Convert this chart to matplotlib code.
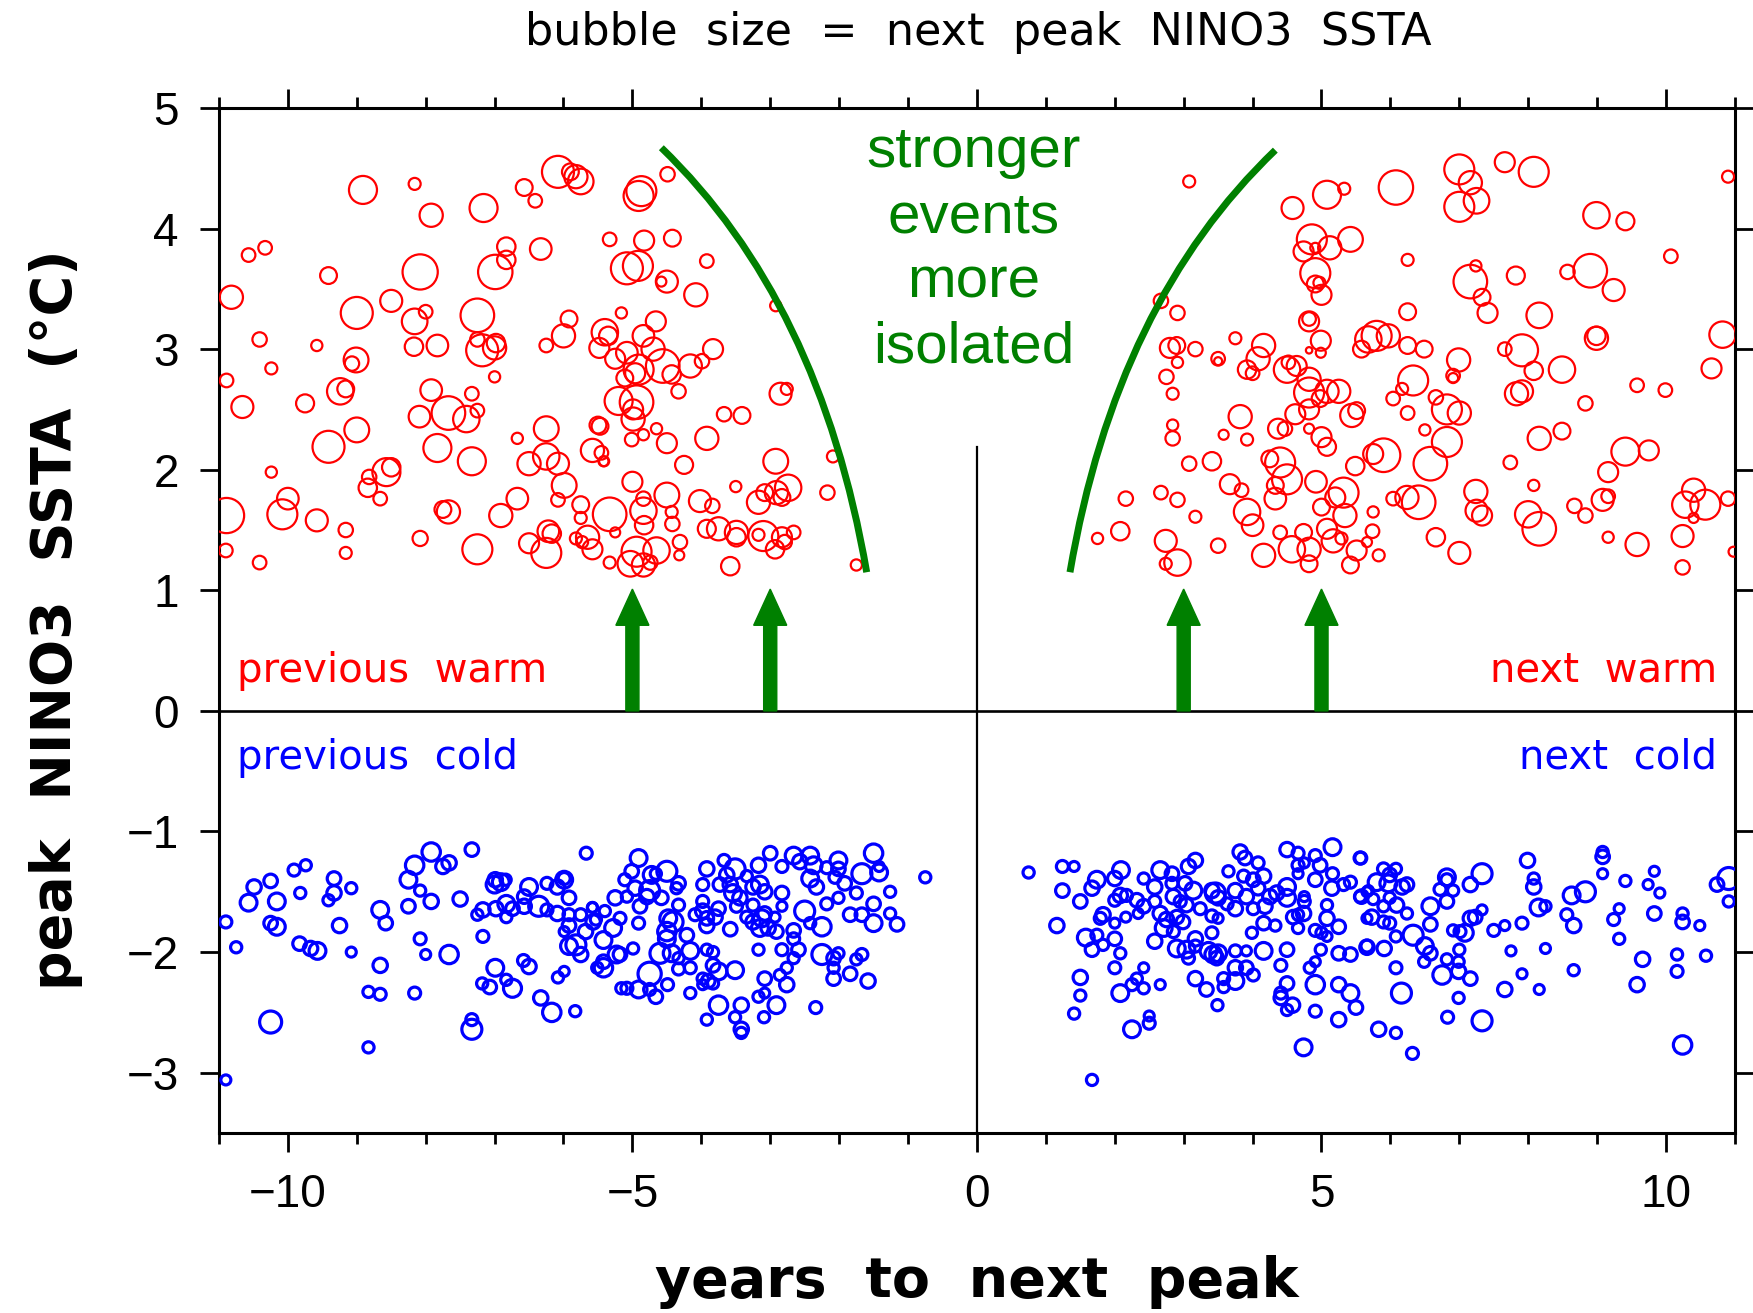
import numpy as np
import matplotlib
matplotlib.use("Agg")
import matplotlib.pyplot as plt
from matplotlib.path import Path
from matplotlib.patches import PathPatch
from matplotlib.ticker import MultipleLocator

# columns: years to next peak, peak NINO3 SSTA (degC), next peak SSTA magnitude (bubble size)
prev_warm = np.array([
    [-8.91, 4.32, 3.5], [-8.16, 4.37, 1.5], [-7.92, 4.11, 2.9], [-7.16, 4.17, 3.5], [-6.57, 4.34, 2.1],
    [-6.41, 4.23, 1.7], [-6.08, 4.47, 4.0], [-5.90, 4.47, 2.1], [-5.82, 4.43, 2.9], [-5.75, 4.39, 3.2],
    [-10.57, 3.78, 1.7], [-10.33, 3.84, 1.7], [-9.41, 3.61, 2.1], [-10.82, 3.43, 2.9], [-8.08, 3.64, 4.4],
    [-6.83, 3.85, 2.3], [-6.83, 3.74, 2.3], [-6.99, 3.64, 4.3], [-6.33, 3.83, 2.7],
    [-8.50, 3.40, 2.75], [-9.0, 3.30, 4.0], [-8.16, 3.23, 3.2], [-8.0, 3.31, 1.7], [-7.25, 3.28, 4.2],
    [-10.41, 3.08, 1.8], [-9.58, 3.03, 1.4], [-8.17, 3.02, 2.3], [-7.83, 3.03, 2.7], [-7.25, 3.08, 1.8],
    [-7.18, 2.99, 4.0], [-7.0, 3.01, 2.9], [-6.98, 3.05, 2.3], [-6.0, 3.11, 2.9], [-5.92, 3.25, 2.1],
    [-6.25, 3.03, 1.7], [-5.48, 3.01, 2.5],
    [-9.01, 2.91, 3.1], [-9.07, 2.88, 1.8], [-10.24, 2.84, 1.5], [-10.89, 2.74, 1.7], [-9.24, 2.65, 3.3],
    [-9.16, 2.67, 2.1], [-7.0, 2.77, 1.4], [-10.66, 2.52, 2.75], [-9.75, 2.55, 2.25], [-7.92, 2.66, 2.7],
    [-7.33, 2.63, 1.7], [-7.67, 2.47, 4.2], [-8.09, 2.44, 2.7], [-7.41, 2.42, 3.3], [-7.25, 2.49, 1.7],
    [-9.0, 2.33, 3.1], [-9.41, 2.19, 4.0], [-7.83, 2.18, 3.5], [-7.33, 2.07, 3.5], [-6.67, 2.26, 1.4],
    [-6.25, 2.34, 3.1], [-6.25, 2.11, 3.3], [-6.50, 2.05, 2.9], [-6.08, 2.05, 2.75], [-5.50, 2.37, 2.1],
    [-5.58, 2.16, 2.9], [-5.42, 2.07, 1.25],
    [-10.24, 1.98, 1.4], [-8.57, 1.98, 3.5], [-8.50, 2.02, 2.3], [-8.82, 1.94, 1.8], [-8.84, 1.85, 2.3],
    [-8.66, 1.76, 1.7], [-5.99, 1.87, 3.1], [-6.08, 1.75, 1.7], [-10.89, 1.62, 4.4], [-10.08, 1.63, 3.75],
    [-10.0, 1.76, 2.7], [-9.58, 1.58, 2.75], [-7.75, 1.67, 2.1], [-7.67, 1.65, 2.9], [-6.67, 1.76, 2.7],
    [-6.91, 1.62, 2.9], [-5.75, 1.71, 2.1], [-5.75, 1.60, 1.5],
    [-9.16, 1.50, 1.8], [-10.9, 1.33, 1.7], [-9.16, 1.31, 1.5], [-10.41, 1.23, 1.7], [-8.08, 1.43, 1.9],
    [-7.25, 1.34, 3.75], [-6.50, 1.39, 2.5], [-6.25, 1.31, 3.75], [-6.22, 1.49, 2.7], [-6.17, 1.47, 2.3],
    [-5.82, 1.43, 1.5], [-5.65, 1.44, 2.9], [-5.58, 1.34, 2.5], [-5.73, 1.40, 1.5],
    [-4.49, 4.45, 1.8], [-4.87, 4.31, 3.75], [-4.91, 4.27, 3.75], [-5.33, 3.91, 1.7], [-4.83, 3.90, 2.5],
    [-4.42, 3.92, 2.1], [-5.08, 3.67, 4.0], [-4.92, 3.69, 3.75], [-3.92, 3.73, 1.7], [-4.50, 3.56, 2.75],
    [-4.58, 3.56, 1.25], [-4.08, 3.45, 2.9], [-2.92, 3.36, 1.4], [-5.16, 3.30, 1.4], [-4.66, 3.23, 2.5],
    [-5.40, 3.14, 3.3], [-5.35, 3.11, 2.3], [-4.84, 3.11, 2.7], [-4.70, 3.0, 2.9], [-5.08, 2.97, 2.7],
    [-5.25, 2.92, 2.5], [-3.83, 3.0, 2.5], [-4.56, 2.86, 4.2], [-4.91, 2.83, 3.75], [-4.96, 2.80, 2.5],
    [-5.11, 2.76, 2.1], [-4.43, 2.79, 2.3], [-4.16, 2.86, 2.9], [-3.99, 2.90, 1.8], [-4.33, 2.65, 1.8],
    [-5.20, 2.57, 3.5], [-4.94, 2.56, 4.2], [-4.99, 2.50, 2.5], [-4.99, 2.42, 2.9], [-5.47, 2.36, 2.1],
    [-2.85, 2.63, 2.75], [-2.76, 2.67, 1.5], [-3.67, 2.46, 1.8], [-3.41, 2.45, 2.1], [-3.92, 2.26, 2.9],
    [-4.50, 2.22, 2.5], [-5.01, 2.25, 1.7], [-4.84, 2.29, 1.4], [-4.65, 2.34, 1.4], [-5.45, 2.14, 1.7],
    [-5.41, 2.07, 1.25], [-4.25, 2.04, 2.25], [-2.09, 2.11, 1.5], [-2.92, 2.07, 3.1], [-5.0, 1.90, 2.5],
    [-4.50, 1.79, 3.1], [-4.84, 1.76, 1.8], [-4.84, 1.66, 3.3], [-5.33, 1.63, 4.2], [-4.43, 1.65, 1.5],
    [-4.42, 1.55, 1.8], [-4.83, 1.54, 2.3], [-5.25, 1.48, 1.25], [-4.02, 1.74, 2.75], [-3.84, 1.70, 1.8],
    [-3.50, 1.86, 1.4], [-3.92, 1.51, 2.25], [-3.75, 1.51, 2.9], [-3.49, 1.48, 2.9], [-3.49, 1.44, 2.3],
    [-3.17, 1.73, 2.9], [-3.08, 1.81, 2.1], [-2.91, 1.81, 2.9], [-2.74, 1.85, 3.3], [-2.83, 1.77, 2.1],
    [-2.17, 1.81, 1.8], [-3.10, 1.45, 3.75], [-3.17, 1.46, 1.5], [-2.83, 1.44, 2.5], [-2.66, 1.48, 1.7],
    [-2.93, 1.34, 2.3], [-2.79, 1.40, 1.8], [-4.31, 1.40, 1.8], [-4.32, 1.29, 1.25], [-4.94, 1.32, 3.75],
    [-5.03, 1.22, 3.2], [-4.84, 1.21, 2.9], [-4.74, 1.23, 1.8], [-4.65, 1.33, 3.3], [-5.33, 1.23, 1.5],
    [-3.58, 1.20, 2.3], [-1.75, 1.21, 1.4],
])

next_warm = np.array([
    [3.08, 4.39, 1.5], [4.58, 4.17, 2.75], [5.08, 4.28, 3.5], [5.33, 4.33, 1.5], [4.86, 3.91, 3.75],
    [4.91, 3.84, 1.25], [4.74, 3.81, 2.5], [5.12, 3.84, 2.9], [5.42, 3.91, 3.1], [4.91, 3.63, 3.75],
    [4.91, 3.54, 2.1], [5.0, 3.45, 2.5], [4.97, 3.55, 1.5], [2.67, 3.40, 1.8], [2.91, 3.30, 1.8],
    [4.82, 3.23, 2.5], [4.82, 3.25, 1.7], [4.99, 3.07, 2.5], [4.99, 2.97, 1.25], [4.82, 2.99, 0.8],
    [3.75, 3.09, 1.5], [4.16, 3.03, 2.9], [5.80, 3.11, 3.75], [5.97, 3.11, 2.9], [5.58, 3.0, 2.1],
    [5.68, 3.08, 3.3], [2.80, 3.01, 2.5], [2.90, 3.03, 2.1], [3.17, 3.0, 1.8], [2.91, 2.89, 1.4],
    [3.50, 2.92, 1.7], [3.50, 2.90, 1.0], [4.08, 2.92, 2.9], [3.92, 2.83, 2.3], [4.0, 2.80, 1.7],
    [4.50, 2.83, 3.3], [4.64, 2.86, 2.5], [4.52, 2.89, 1.7], [2.75, 2.77, 1.8], [2.84, 2.63, 1.5],
    [4.82, 2.75, 2.9], [4.82, 2.64, 3.75], [5.08, 2.65, 2.9], [5.25, 2.65, 2.9], [4.98, 2.59, 2.1],
    [3.82, 2.44, 2.9], [4.62, 2.46, 2.5], [4.82, 2.50, 2.5], [5.44, 2.45, 2.9], [5.51, 2.49, 2.1],
    [6.04, 2.59, 1.7], [2.84, 2.37, 1.4], [2.84, 2.26, 1.8], [3.58, 2.29, 1.25], [3.92, 2.25, 1.5],
    [4.37, 2.34, 2.5], [4.47, 2.34, 1.8], [4.82, 2.34, 1.25], [5.0, 2.27, 2.5], [5.08, 2.19, 2.25],
    [5.90, 2.12, 4.2], [5.75, 2.13, 2.5], [3.08, 2.05, 1.8], [3.41, 2.07, 2.3], [4.40, 2.06, 3.75],
    [4.25, 2.09, 2.1], [4.50, 1.92, 3.75], [4.33, 1.87, 2.1], [4.92, 1.90, 2.7], [5.49, 2.03, 2.3],
    [3.67, 1.88, 2.5], [3.84, 1.83, 1.7], [3.92, 1.65, 3.3], [4.0, 1.54, 2.7], [4.33, 1.76, 2.7],
    [5.32, 1.81, 3.75], [5.20, 1.77, 2.5], [5.0, 1.69, 2.1], [5.34, 1.62, 2.9], [5.75, 1.65, 1.4],
    [6.04, 1.76, 1.7], [2.16, 1.76, 1.8], [2.67, 1.81, 1.7], [2.91, 1.75, 1.8], [3.17, 1.61, 1.5],
    [2.08, 1.49, 2.3], [1.75, 1.43, 1.4], [2.74, 1.41, 2.75], [2.91, 1.23, 3.3], [2.74, 1.22, 1.5],
    [3.50, 1.37, 1.8], [4.16, 1.29, 2.9], [4.40, 1.48, 1.7], [4.57, 1.34, 3.3], [4.74, 1.48, 2.1],
    [4.82, 1.34, 2.9], [4.82, 1.22, 2.1], [5.08, 1.51, 2.5], [5.17, 1.41, 2.9], [5.29, 1.43, 1.5],
    [5.51, 1.33, 2.5], [5.42, 1.21, 2.1], [5.83, 1.29, 1.5], [5.66, 1.40, 1.25], [5.74, 1.49, 1.7],
    [6.08, 4.34, 4.3], [7.0, 4.49, 3.75], [7.16, 4.38, 2.9], [7.0, 4.18, 3.75], [7.25, 4.23, 3.2],
    [7.66, 4.55, 2.5], [8.08, 4.47, 3.75], [10.90, 4.43, 1.5], [8.99, 4.11, 3.3], [9.41, 4.06, 2.25],
    [6.25, 3.74, 1.5], [7.16, 3.56, 4.2], [7.24, 3.69, 1.4], [7.33, 3.43, 2.1], [7.41, 3.30, 2.5],
    [7.82, 3.61, 2.25], [8.57, 3.64, 1.8], [8.90, 3.65, 4.2], [9.24, 3.49, 2.75], [10.07, 3.77, 1.7],
    [6.25, 3.31, 2.1], [8.16, 3.28, 3.2], [6.25, 3.03, 2.1], [6.49, 3.0, 2.1], [6.99, 2.91, 2.9],
    [6.91, 2.78, 1.7], [6.91, 2.76, 1.25], [7.66, 3.0, 1.7], [7.91, 2.99, 4.0], [8.08, 2.82, 2.3],
    [8.49, 2.83, 3.3], [8.99, 3.09, 2.9], [8.99, 3.11, 2.3], [10.82, 3.12, 3.3], [10.66, 2.84, 2.5],
    [6.33, 2.74, 3.75], [6.17, 2.67, 1.5], [6.25, 2.47, 1.7], [6.66, 2.60, 1.8], [6.82, 2.50, 3.75],
    [7.0, 2.47, 2.9], [7.83, 2.63, 2.9], [7.91, 2.65, 2.75], [8.83, 2.55, 1.8], [9.58, 2.70, 1.7],
    [9.99, 2.66, 1.7], [6.50, 2.33, 1.4], [6.82, 2.23, 3.75], [6.58, 2.05, 4.2], [7.74, 2.06, 1.7],
    [8.16, 2.26, 2.9], [8.49, 2.32, 2.1], [9.41, 2.15, 3.5], [9.75, 2.16, 2.5], [9.16, 1.98, 2.5],
    [6.24, 1.77, 2.9], [6.41, 1.73, 4.2], [7.24, 1.82, 2.9], [7.25, 1.66, 2.75], [7.33, 1.62, 2.5],
    [8.08, 1.87, 1.4], [8.0, 1.63, 3.3], [8.16, 1.51, 4.2], [8.67, 1.70, 1.8], [8.83, 1.62, 1.8],
    [9.08, 1.75, 2.75], [9.16, 1.78, 1.7], [10.40, 1.83, 2.9], [10.28, 1.71, 3.3], [10.57, 1.71, 3.75],
    [10.40, 1.60, 1.25], [10.90, 1.76, 1.8], [6.66, 1.44, 2.3], [7.0, 1.31, 2.75], [9.16, 1.44, 1.4],
    [9.58, 1.38, 2.9], [10.24, 1.45, 2.75], [10.24, 1.19, 1.8], [10.98, 1.32, 1.25],
])

prev_cold = np.array([
    [-7.92, -1.17, 2.3], [-7.33, -1.15, 1.7], [-5.67, -1.18, 1.5], [-8.16, -1.28, 2.3], [-7.75, -1.29, 1.8],
    [-7.66, -1.26, 1.8], [-9.91, -1.32, 1.5], [-9.74, -1.28, 1.4], [-10.25, -1.41, 1.7], [-10.49, -1.46, 1.8],
    [-10.57, -1.59, 2.1], [-10.16, -1.58, 2.1], [-9.82, -1.51, 1.4], [-9.33, -1.39, 1.7], [-9.33, -1.51, 1.8],
    [-9.41, -1.57, 1.4], [-9.08, -1.47, 1.4], [-8.25, -1.40, 2.1], [-8.08, -1.49, 1.4], [-8.25, -1.62, 1.7],
    [-7.92, -1.58, 1.8], [-7.50, -1.56, 1.8], [-10.90, -1.75, 1.5], [-10.25, -1.76, 1.7], [-10.16, -1.79, 2.1],
    [-9.25, -1.78, 1.8], [-8.66, -1.65, 2.1], [-8.58, -1.76, 1.7], [-10.75, -1.96, 1.4], [-9.83, -1.93, 1.7],
    [-9.67, -1.97, 1.8], [-9.57, -1.99, 2.1], [-9.08, -2.0, 1.25], [-8.66, -2.11, 1.8], [-8.08, -1.89, 1.5],
    [-8.0, -2.02, 1.25], [-7.66, -2.02, 2.3], [-7.17, -1.87, 1.5], [-8.83, -2.33, 1.4], [-8.66, -2.35, 1.5],
    [-8.16, -2.34, 1.5], [-10.25, -2.58, 2.75], [-7.33, -2.56, 1.5], [-7.33, -2.64, 2.5], [-8.83, -2.79, 1.4],
    [-10.90, -3.06, 1.25], [-6.99, -2.13, 2.1], [-7.18, -2.26, 1.4], [-7.07, -2.29, 1.7], [-6.83, -2.23, 1.4],
    [-6.74, -2.30, 2.25], [-6.58, -2.07, 1.5], [-6.50, -2.12, 1.8], [-6.33, -2.38, 1.8], [-6.17, -2.50, 2.3],
    [-5.83, -2.49, 1.4], [-6.08, -2.21, 1.4], [-5.99, -2.16, 1.25], [-5.51, -2.13, 1.4], [-6.99, -1.40, 1.8],
    [-6.91, -1.42, 2.1], [-6.84, -1.40, 1.4], [-7.0, -1.44, 2.1], [-7.17, -1.65, 1.8], [-7.25, -1.69, 1.4],
    [-6.98, -1.64, 1.8], [-6.83, -1.60, 2.1], [-6.83, -1.71, 1.4], [-6.74, -1.64, 1.7], [-6.50, -1.46, 2.1],
    [-6.57, -1.54, 1.7], [-6.57, -1.62, 1.8], [-6.36, -1.62, 2.5], [-6.24, -1.43, 1.5], [-6.24, -1.65, 1.5],
    [-6.09, -1.46, 1.8], [-5.99, -1.40, 2.1], [-5.99, -1.39, 1.5], [-5.92, -1.55, 1.7], [-6.09, -1.68, 1.8],
    [-5.92, -1.69, 1.5], [-5.75, -1.69, 1.5], [-5.58, -1.63, 1.25], [-5.92, -1.78, 1.7], [-5.99, -1.83, 1.25],
    [-5.68, -1.83, 1.8], [-5.92, -1.95, 2.1], [-5.82, -1.94, 2.5], [-5.75, -2.02, 1.8], [-5.53, -1.73, 1.4],
    [-4.91, -1.22, 2.1], [-5.01, -1.33, 1.7], [-5.11, -1.40, 1.5], [-4.96, -1.47, 1.8], [-4.72, -1.36, 2.1],
    [-4.66, -1.35, 1.4], [-4.50, -1.33, 2.5], [-4.33, -1.43, 1.7], [-4.75, -1.49, 2.5], [-4.79, -1.54, 1.8],
    [-4.89, -1.62, 1.7], [-4.58, -1.55, 1.7], [-4.36, -1.47, 1.4], [-4.33, -1.61, 1.5], [-5.25, -1.55, 1.8],
    [-5.08, -1.54, 1.4], [-5.58, -1.63, 1.25], [-5.40, -1.66, 1.4], [-5.57, -1.75, 1.8], [-5.18, -1.72, 1.5],
    [-5.28, -1.80, 2.1], [-5.42, -1.90, 2.1], [-4.91, -1.76, 1.5], [-4.48, -1.72, 2.1], [-4.41, -1.75, 2.5],
    [-4.50, -1.83, 2.3], [-4.50, -1.89, 2.1], [-4.60, -2.01, 2.5], [-4.43, -2.01, 2.1], [-4.33, -2.05, 1.4],
    [-4.21, -1.86, 1.7], [-4.16, -1.99, 2.1], [-4.16, -2.13, 1.5], [-4.33, -2.14, 1.5], [-4.99, -1.97, 1.4],
    [-5.23, -2.02, 2.1], [-5.18, -2.02, 1.7], [-5.42, -2.13, 2.3], [-5.42, -2.08, 1.7], [-4.75, -2.18, 2.9],
    [-4.91, -2.31, 2.1], [-5.16, -2.30, 1.4], [-5.08, -2.30, 1.5], [-4.75, -2.31, 1.5], [-4.66, -2.37, 1.7],
    [-4.49, -2.27, 1.5], [-4.16, -2.34, 1.4], [-3.98, -1.66, 1.8], [-4.09, -1.69, 1.5], [-3.92, -1.72, 1.7],
    [-3.80, -1.71, 1.8], [-3.98, -1.58, 1.5], [-3.98, -1.44, 1.5], [-3.92, -1.31, 1.8], [-3.75, -1.64, 1.7],
    [-3.92, -1.78, 1.8], [-3.58, -1.81, 1.7], [-3.92, -1.98, 1.4], [-3.83, -2.0, 1.4], [-3.83, -2.11, 1.7],
    [-3.75, -2.16, 2.1], [-3.51, -2.15, 2.1], [-3.98, -2.22, 1.4], [-3.90, -2.24, 1.7], [-3.83, -2.26, 1.4],
    [-3.98, -2.27, 1.25], [-3.67, -1.24, 1.5], [-3.51, -1.31, 2.5], [-3.63, -1.36, 1.8], [-3.73, -1.44, 1.7],
    [-3.58, -1.44, 1.8], [-3.54, -1.51, 2.1], [-3.44, -1.55, 1.8], [-3.49, -1.62, 1.5], [-3.34, -1.37, 1.4],
    [-3.17, -1.28, 1.8], [-3.25, -1.46, 1.8], [-3.15, -1.44, 2.1], [-3.08, -1.50, 1.8], [-3.25, -1.61, 1.5],
    [-3.34, -1.71, 1.5], [-3.25, -1.75, 1.8], [-3.12, -1.72, 2.1], [-3.15, -1.80, 2.1], [-3.03, -1.80, 1.8],
    [-2.91, -1.83, 1.7], [-3.08, -1.68, 1.7], [-2.93, -1.71, 1.25], [-2.83, -1.51, 1.7], [-2.83, -1.62, 1.25],
    [-3.0, -1.18, 1.7], [-2.83, -1.29, 1.5], [-2.66, -1.20, 2.1], [-2.57, -1.25, 1.8], [-2.42, -1.20, 2.1],
    [-2.37, -1.28, 2.1], [-2.42, -1.39, 2.1], [-2.33, -1.46, 1.8], [-2.18, -1.30, 1.5], [-2.01, -1.24, 2.1],
    [-2.01, -1.31, 1.7], [-2.06, -1.38, 1.5], [-1.92, -1.43, 1.7], [-1.75, -1.51, 1.5], [-1.67, -1.35, 2.5],
    [-1.50, -1.18, 2.3], [-1.42, -1.34, 2.1], [-1.42, -1.29, 1.25], [-1.26, -1.50, 1.4], [-0.75, -1.38, 1.4],
    [-2.50, -1.66, 2.5], [-2.18, -1.60, 1.5], [-2.01, -1.55, 1.4], [-1.84, -1.69, 1.7], [-1.67, -1.69, 1.7],
    [-1.50, -1.60, 1.7], [-1.50, -1.76, 2.1], [-1.26, -1.68, 1.4], [-1.16, -1.77, 1.7], [-2.25, -1.79, 2.3],
    [-2.42, -1.76, 1.4], [-2.66, -1.82, 1.7], [-2.66, -1.89, 1.5], [-2.59, -1.98, 1.7], [-2.66, -2.05, 1.4],
    [-2.83, -1.98, 1.5], [-3.17, -1.98, 1.4], [-2.76, -2.13, 1.4], [-2.86, -2.19, 1.4], [-2.76, -2.27, 1.8],
    [-3.08, -2.22, 1.7], [-3.17, -2.37, 1.4], [-3.08, -2.34, 1.25], [-2.91, -2.44, 2.1], [-3.09, -2.54, 1.4],
    [-3.42, -2.44, 1.8], [-3.75, -2.44, 2.3], [-3.51, -2.54, 1.4], [-3.42, -2.64, 1.8], [-3.42, -2.67, 1.4],
    [-3.92, -2.56, 1.4], [-2.25, -2.02, 2.5], [-2.08, -2.05, 1.7], [-2.01, -2.01, 1.4], [-2.08, -2.13, 1.4],
    [-2.08, -2.22, 1.7], [-1.84, -2.18, 1.7], [-1.75, -2.06, 1.4], [-1.67, -2.02, 1.5], [-1.58, -2.24, 1.8],
    [-2.34, -2.46, 1.5],
])

next_cold = np.array([
    [0.75, -1.34, 1.4], [1.24, -1.29, 1.5], [1.41, -1.29, 1.25], [1.24, -1.49, 1.7], [1.50, -1.58, 1.7],
    [1.16, -1.78, 1.8], [1.67, -1.47, 1.8], [1.74, -1.40, 2.1], [2.0, -1.39, 1.8], [2.09, -1.32, 2.1],
    [2.0, -1.57, 1.5], [2.08, -1.53, 1.8], [2.17, -1.53, 1.5], [1.83, -1.69, 1.8], [1.79, -1.72, 1.5],
    [2.0, -1.76, 1.25], [2.16, -1.71, 1.25], [1.58, -1.88, 2.1], [1.74, -1.86, 1.5], [1.67, -1.98, 1.7],
    [1.83, -1.94, 1.4], [2.0, -1.89, 1.7], [2.08, -2.01, 1.4], [2.0, -2.13, 1.5], [1.50, -2.21, 1.8],
    [1.50, -2.36, 1.4], [1.41, -2.51, 1.4], [1.67, -3.06, 1.4], [2.08, -2.34, 2.1], [2.25, -2.27, 1.5],
    [2.32, -2.22, 1.4], [2.42, -2.13, 1.25], [2.42, -2.30, 1.4], [2.66, -2.27, 1.25], [2.25, -2.64, 2.1],
    [2.50, -2.53, 1.25], [2.50, -2.59, 1.5], [2.42, -1.39, 1.4], [2.32, -1.57, 1.7], [2.42, -1.62, 1.7],
    [2.34, -1.68, 1.25], [2.58, -1.46, 1.8], [2.66, -1.32, 2.1], [2.58, -1.58, 1.5], [2.66, -1.68, 1.8],
    [2.75, -1.73, 1.8], [2.71, -1.80, 2.1], [2.83, -1.35, 1.7], [2.83, -1.43, 1.5], [2.85, -1.54, 1.8],
    [2.95, -1.58, 1.5], [2.90, -1.71, 1.7], [2.99, -1.75, 1.7], [2.85, -1.83, 1.5], [2.58, -1.91, 1.8],
    [2.90, -1.97, 2.1], [3.04, -1.98, 2.1], [3.07, -2.05, 1.5], [3.17, -1.89, 1.8], [3.17, -1.95, 1.5],
    [3.07, -1.29, 1.8], [3.17, -1.24, 1.8], [3.02, -1.43, 1.7], [3.14, -1.49, 2.1], [3.04, -1.61, 1.7],
    [3.24, -1.64, 1.5], [3.41, -1.49, 1.8], [3.46, -1.51, 2.5], [3.50, -1.55, 1.8], [3.41, -1.70, 1.5],
    [3.50, -1.72, 1.25], [3.41, -1.84, 1.5], [3.36, -1.99, 2.1], [3.43, -2.02, 2.1], [3.50, -2.01, 2.1],
    [3.48, -2.05, 1.7], [3.17, -2.22, 1.8], [3.33, -2.31, 1.7], [3.58, -2.22, 1.5], [3.58, -2.29, 1.4],
    [3.49, -2.44, 1.4], [3.65, -1.33, 1.4], [3.75, -1.49, 1.8], [3.63, -1.60, 1.5], [3.75, -1.64, 1.8],
    [3.75, -1.99, 1.5], [3.75, -2.13, 1.8], [3.75, -2.24, 2.1], [3.91, -1.99, 1.25], [3.91, -2.13, 1.7],
    [4.01, -2.19, 1.5], [3.82, -1.17, 1.8], [3.89, -1.22, 1.7], [4.08, -1.26, 1.5], [3.87, -1.37, 1.5],
    [4.01, -1.40, 1.7], [4.16, -1.37, 1.8], [4.08, -1.47, 1.7], [3.91, -1.54, 1.8], [4.01, -1.64, 1.5],
    [4.18, -1.62, 1.8], [4.25, -1.54, 1.8], [4.16, -1.76, 1.7], [3.99, -1.84, 1.4], [4.16, -1.99, 2.1],
    [4.33, -1.78, 1.4], [4.35, -1.51, 1.8], [4.50, -1.46, 2.1], [4.50, -1.55, 2.1], [4.50, -1.15, 1.8],
    [4.66, -1.18, 1.5], [4.66, -1.28, 1.5], [4.75, -1.26, 1.25], [4.66, -1.35, 1.25], [4.59, -1.71, 1.7],
    [4.66, -1.69, 1.4], [4.66, -1.80, 1.4], [4.74, -1.68, 1.8], [4.75, -1.58, 1.5], [4.75, -1.54, 1.25],
    [4.50, -1.98, 1.7], [4.41, -2.11, 1.5], [4.50, -2.26, 1.7], [4.41, -2.34, 1.5], [4.41, -2.38, 1.7],
    [4.58, -2.44, 1.8], [4.50, -2.48, 1.4], [4.91, -1.20, 1.5], [4.98, -1.28, 1.7], [4.91, -1.40, 1.7],
    [5.16, -1.13, 2.1], [5.16, -1.35, 1.5], [5.15, -1.47, 1.8], [5.32, -1.44, 1.5], [5.42, -1.42, 1.5],
    [5.56, -1.22, 1.5], [5.56, -1.54, 1.4], [5.68, -1.49, 1.25], [5.08, -1.61, 1.4], [5.08, -1.72, 1.8],
    [4.91, -1.82, 1.5], [5.0, -1.84, 1.4], [5.25, -1.79, 1.7], [5.08, -1.87, 1.25], [4.99, -1.98, 1.4],
    [4.91, -2.08, 1.25], [4.83, -2.13, 1.4], [4.91, -2.27, 2.3], [4.91, -2.49, 1.5], [5.25, -2.01, 1.7],
    [5.42, -2.02, 1.7], [5.25, -2.27, 1.8], [5.42, -2.34, 2.1], [5.50, -2.46, 1.7], [5.25, -2.56, 1.8],
    [4.74, -2.79, 2.1], [5.66, -1.95, 1.5], [5.66, -1.72, 1.25],
    [5.57, -1.22, 1.5], [5.58, -1.54, 1.7], [5.66, -1.50, 1.25], [5.80, -1.42, 2.1], [5.90, -1.31, 1.5],
    [5.99, -1.36, 1.7], [5.97, -1.43, 2.1], [6.08, -1.31, 1.4], [6.17, -1.46, 1.8], [6.24, -1.44, 1.7],
    [5.75, -1.56, 1.4], [5.99, -1.55, 1.4], [6.09, -1.61, 1.8], [5.90, -1.62, 1.4], [5.73, -1.71, 1.8],
    [5.90, -1.75, 1.5], [5.99, -1.76, 1.5], [6.24, -1.68, 1.4], [6.08, -1.87, 1.4], [6.33, -1.86, 2.5],
    [5.66, -1.96, 1.8], [5.91, -1.97, 1.8], [6.50, -1.95, 2.1], [6.58, -2.01, 1.7], [6.49, -2.08, 1.4],
    [6.08, -2.13, 1.5], [6.58, -1.62, 2.1], [6.58, -1.77, 1.7], [6.82, -1.38, 2.1], [6.82, -1.40, 1.5],
    [6.72, -1.48, 1.5], [6.91, -1.49, 1.4], [6.82, -1.58, 1.7], [7.16, -1.44, 1.8], [7.33, -1.35, 2.5],
    [6.91, -1.82, 1.4], [7.08, -1.84, 2.1], [7.01, -1.83, 1.5], [7.16, -1.72, 1.8], [7.23, -1.71, 1.7],
    [7.33, -1.65, 1.25], [7.0, -1.98, 1.4], [6.82, -2.06, 1.4], [6.99, -2.08, 1.4], [6.99, -2.16, 1.8],
    [6.75, -2.19, 2.3], [7.16, -2.22, 1.7], [6.16, -2.34, 2.5], [6.99, -2.38, 1.4], [5.83, -2.64, 1.8],
    [6.08, -2.67, 1.4], [6.32, -2.84, 1.5], [6.83, -2.54, 1.5], [7.33, -2.57, 2.5], [7.50, -1.82, 1.5],
    [7.66, -1.78, 1.25], [7.91, -1.76, 1.5], [7.75, -1.99, 1.25], [8.25, -1.97, 1.25], [7.91, -2.18, 1.25],
    [7.66, -2.31, 1.8], [8.16, -2.31, 1.25], [7.99, -1.24, 1.8], [8.08, -1.39, 1.4], [8.08, -1.46, 1.8],
    [8.15, -1.63, 2.1], [8.25, -1.62, 1.4], [8.56, -1.69, 1.5], [8.66, -1.78, 1.8], [8.63, -1.53, 2.1],
    [8.83, -1.50, 2.5], [8.66, -2.15, 1.4], [9.08, -1.17, 1.4], [9.08, -1.21, 1.7], [9.08, -1.35, 1.25],
    [9.41, -1.41, 1.4], [9.32, -1.64, 1.25], [9.24, -1.73, 1.5], [9.32, -1.89, 1.4], [9.58, -2.27, 1.8],
    [9.66, -2.06, 1.8], [9.83, -1.33, 1.25], [9.74, -1.44, 1.25], [9.91, -1.51, 1.25], [9.83, -1.68, 1.7],
    [10.24, -1.68, 1.4], [10.24, -1.75, 1.7], [10.49, -1.78, 1.25], [10.16, -2.02, 1.4], [10.16, -2.16, 1.5],
    [10.58, -2.03, 1.4], [10.24, -2.77, 2.3], [10.74, -1.44, 1.7], [10.91, -1.39, 2.75], [10.91, -1.58, 1.4],
])

panel_labels = [("previous  warm", "red"), ("next  warm", "red"),
                ("previous  cold", "blue"), ("next  cold", "blue")]
note_lines = ["stronger", "events", "more", "isolated"]
arrow_years = [-5, -3, 3, 5]

# quadratic envelopes (start, control, end) bounding the isolated strong events
left_arc = [(-4.58, 4.67), (-2.28, 3.40), (-1.60, 1.15)]
right_arc = [(1.35, 1.15), (2.02, 3.39), (4.33, 4.65)]

GREEN = "#008000"


def bubble_area(v):
    # radius of 4 px per degree at dpi 100, converted to points^2 for scatter
    diam_pt = 8.0 * v * 72.0 / 100.0
    return diam_pt ** 2


fig = plt.figure(figsize=(17.53, 13.13), dpi=100)
ax = fig.add_axes([0.1249, 0.1371, 0.8648, 0.7807])

for arr, col, lw in [(prev_warm, "#ff0000", 1.6), (next_warm, "#ff0000", 1.6),
                     (prev_cold, "#0000ff", 2.3), (next_cold, "#0000ff", 2.3)]:
    ax.scatter(arr[:, 0], arr[:, 1], s=bubble_area(arr[:, 2]), facecolors="none",
               edgecolors=col, linewidths=lw, zorder=3)

ax.axhline(0, color="black", lw=1.9, zorder=2)
ax.plot([0, 0], [-3.5, 2.19], color="black", lw=1.6, zorder=2)

for pts in (left_arc, right_arc):
    path = Path(pts, [Path.MOVETO, Path.CURVE3, Path.CURVE3])
    ax.add_patch(PathPatch(path, facecolor="none", edgecolor=GREEN, lw=5, zorder=4))

for xa in arrow_years:
    ax.arrow(xa, 0, 0, 1.01, width=0.19, head_width=0.48, head_length=0.3,
             length_includes_head=True, color=GREEN, zorder=4)

for i, line in enumerate(note_lines):
    ax.text(-0.05, 4.51 - i * 0.54, line, color=GREEN, fontsize=42, ha="center",
            va="baseline", family="Liberation Sans", zorder=5)

lab_kw = dict(fontsize=29, family="DejaVu Sans", va="baseline")
ax.text(-10.74, 0.24, panel_labels[0][0], color=panel_labels[0][1], ha="left", **lab_kw)
ax.text(10.74, 0.24, panel_labels[1][0], color=panel_labels[1][1], ha="right", **lab_kw)
ax.text(-10.74, -0.48, panel_labels[2][0], color=panel_labels[2][1], ha="left", **lab_kw)
ax.text(10.74, -0.48, panel_labels[3][0], color=panel_labels[3][1], ha="right", **lab_kw)

ax.set_xlim(-11, 11)
ax.set_ylim(-3.5, 5)
ax.xaxis.set_major_locator(MultipleLocator(5))
ax.xaxis.set_minor_locator(MultipleLocator(1))
ax.yaxis.set_major_locator(MultipleLocator(1))

ax.tick_params(axis="both", which="major", direction="out", length=14, width=2,
               top=True, right=True, labelsize=33, pad=15)
ax.tick_params(axis="x", which="minor", direction="out", length=8, width=2, top=True)
for lbl in ax.get_xticklabels() + ax.get_yticklabels():
    lbl.set_family("Liberation Sans")

for sp in ax.spines.values():
    sp.set_linewidth(2.2)

fig.text(0.558, 0.966, "bubble  size  =  next  peak  NINO3  SSTA", fontsize=32,
         family="DejaVu Sans", ha="center", va="baseline")
fig.text(0.557, 0.0122, "years  to  next  peak", fontsize=40, fontweight="bold",
         family="DejaVu Sans", ha="center", va="baseline")
fig.text(0.032, 0.528, "peak  NINO3  SSTA  (°C)", fontsize=40, fontweight="bold",
         family="DejaVu Sans", ha="center", va="center", rotation=90)

fig.savefig("out.png", dpi=100)
